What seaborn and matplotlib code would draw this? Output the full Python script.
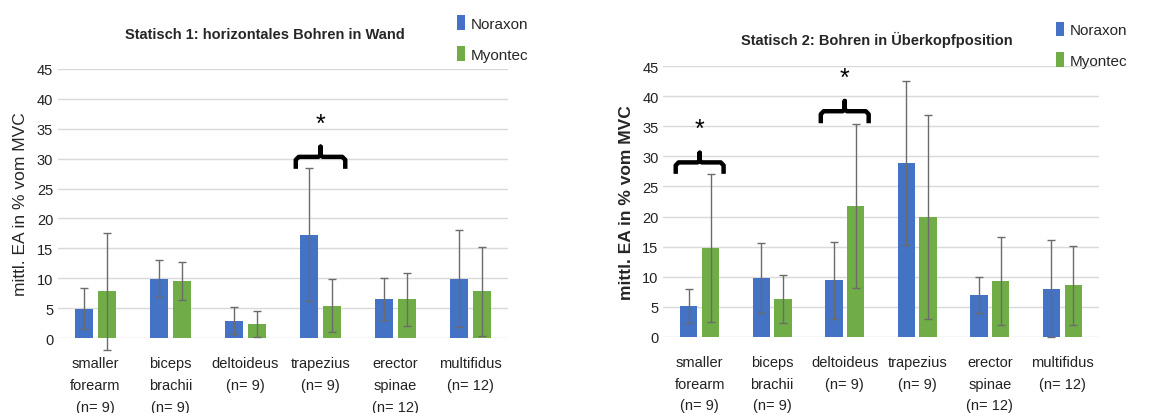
import matplotlib
matplotlib.use("Agg")
import matplotlib.pyplot as plt
import numpy as np
import pandas as pd
import seaborn as sns

categories = ["smaller\nforearm\n(n= 9)", "biceps\nbrachii\n(n= 9)", "deltoideus\n(n= 9)",
              "trapezius\n(n= 9)", "erector\nspinae\n(n= 12)", "multifidus\n(n= 12)"]
devices = ["Noraxon", "Myontec"]

s1_noraxon = [4.9, 9.9, 2.9, 17.3, 6.5, 9.9]
s1_noraxon_sd = [3.4, 3.1, 2.3, 11.1, 3.5, 8.1]
s1_myontec = [7.8, 9.5, 2.3, 5.4, 6.5, 7.8]
s1_myontec_sd = [9.8, 3.2, 2.2, 4.4, 4.4, 7.4]

s2_noraxon = [5.2, 9.8, 9.4, 28.9, 7.0, 8.0]
s2_noraxon_sd = [2.8, 5.85, 6.35, 13.65, 2.95, 8.05]
s2_myontec = [14.8, 6.3, 21.8, 19.9, 9.3, 8.6]
s2_myontec_sd = [12.3, 4.05, 13.65, 16.95, 7.25, 6.55]

# significance markers: (category index, bracket bottom, bracket top, nub top, star y)
s1_signif = [(3, 28.3, 30.3, 32.0, 35.8)]
s2_signif = [(0, 27.1, 29.0, 30.6, 34.5), (2, 35.5, 37.5, 39.2, 43.0)]

sns.set_style("white")
plt.rcParams["font.family"] = ["Liberation Sans", "DejaVu Sans"]

BLUE, GREEN = "#4472C4", "#70AD47"


def make_frame(nor, myo):
    return pd.DataFrame({
        "muscle": categories * 2,
        "device": [devices[0]] * len(categories) + [devices[1]] * len(categories),
        "value": list(nor) + list(myo),
    })


def draw_brace(ax, xc, yb, yt, yn, ystar, half=0.33):
    x0, x1 = xc - half, xc + half
    r = 0.04
    xs = [x0, x0, x0 + r, xc - 0.03, xc, xc, xc, xc + 0.03, x1 - r, x1, x1]
    ys = [yb, yt - 0.5, yt, yt, yt + 0.3, yn, yt + 0.3, yt, yt, yt - 0.5, yb]
    ax.plot(xs, ys, color="black", lw=3.2, solid_capstyle="butt",
            solid_joinstyle="round", clip_on=False)
    ax.text(xc, ystar, "*", ha="center", va="center", fontsize=18, color="black")


def panel(ax, nor, nor_sd, myo, myo_sd, signif, ylabel_bold):
    df = make_frame(nor, myo)
    sns.barplot(data=df, x="muscle", y="value", hue="device", order=categories,
                hue_order=devices, palette=[BLUE, GREEN], width=0.6, gap=0.2,
                errorbar=None, ax=ax, linewidth=0, saturation=1)
    for cont, sd in zip(ax.containers, [nor_sd, myo_sd]):
        xs = [b.get_x() + b.get_width() / 2 for b in cont]
        hs = [b.get_height() for b in cont]
        ax.errorbar(xs, hs, yerr=sd, fmt="none", ecolor="#6b6b6b", elinewidth=1.0,
                    capsize=3, capthick=1.0, clip_on=False, zorder=3)
    ax.set_ylim(0, 45)
    ax.set_yticks(np.arange(0, 46, 5))
    ax.set_xlim(-0.5, len(categories) - 0.5)
    ax.grid(axis="y", color="#d9d9d9", lw=1.0)
    ax.set_axisbelow(True)
    for s in ax.spines.values():
        s.set_visible(False)
    ax.tick_params(axis="both", length=0, labelsize=10.5, colors="#222222")
    ax.tick_params(axis="x", pad=13)
    ax.set_xlabel("")
    ax.set_ylabel("mittl. EA in % vom MVC", fontsize=12.5,
                  fontweight="bold" if ylabel_bold else "normal", labelpad=6)
    for lbl in ax.get_xticklabels():
        lbl.set_linespacing(1.7)
    for idx, yb, yt, yn, ys in signif:
        draw_brace(ax, idx, yb, yt, yn, ys)


fig = plt.figure(figsize=(11.7, 4.14), dpi=100)
ax1 = fig.add_axes([0.0496, 0.181, 0.3846, 0.650])
ax2 = fig.add_axes([0.567, 0.1836, 0.372, 0.6544])

panel(ax1, s1_noraxon, s1_noraxon_sd, s1_myontec, s1_myontec_sd, s1_signif, False)
panel(ax2, s2_noraxon, s2_noraxon_sd, s2_myontec, s2_myontec_sd, s2_signif, True)

ax1.set_title("Statisch 1: horizontales Bohren in Wand", fontsize=10.5,
              fontweight="bold", x=0.46, pad=22)
ax2.set_title("Statisch 2: Bohren in Überkopfposition", fontsize=10.5,
              fontweight="bold", x=0.49, pad=16)

for ax, anchor in [(ax1, (0.385, 0.975)), (ax2, (0.897, 0.96))]:
    sns.move_legend(ax, "upper left", bbox_to_anchor=anchor,
                    bbox_transform=fig.transFigure, title=None, frameon=False,
                    handlelength=0.55, handleheight=1.1, handletextpad=0.35,
                    labelspacing=1.0, fontsize=11, borderaxespad=0)

fig.savefig("out.png", dpi=100)
